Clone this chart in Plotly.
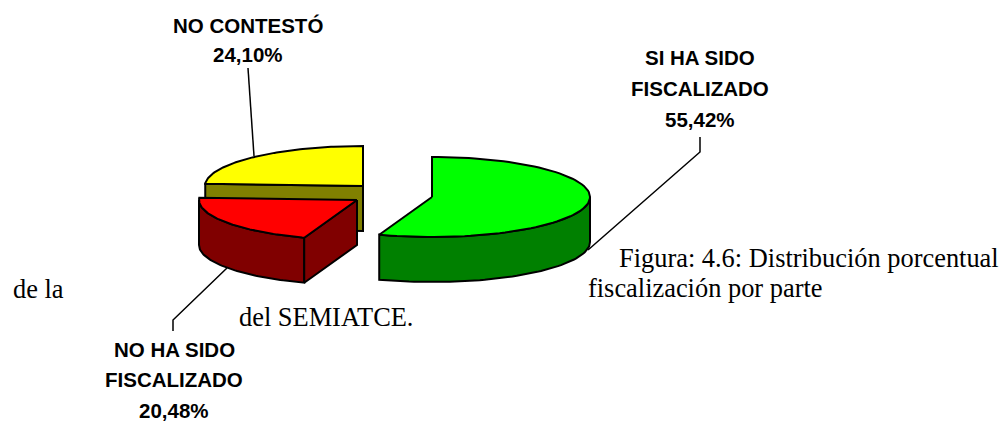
import numpy as np
import plotly.graph_objects as go

# Data
categories = ["SI HA SIDO FISCALIZADO", "NO HA SIDO FISCALIZADO", "NO CONTESTÓ"]
values = [55.42, 20.48, 24.10]
top_colors = ["#00ff00", "#ff0000", "#ffff00"]
side_colors = ["#008000", "#800000", "#808000"]

# Projection of the 3D pie (page pixels)
centres = [(432, 197), (357, 200), (363, 186)]
RX, RY, DEPTH = 158, 40, 45
LINE = dict(color="#000000", width=2)

fig = go.Figure()


def pt(c, deg, dy=0):
    t = np.radians(deg)
    return c[0] + RX * np.sin(t), c[1] - RY * np.cos(t) + dy


def poly(pts, fill, name):
    xs = [p[0] for p in pts] + [pts[0][0]]
    ys = [p[1] for p in pts] + [pts[0][1]]
    fig.add_trace(go.Scatter(x=xs, y=ys, mode="lines", fill="toself", fillcolor=fill,
                             line=LINE, name=name, hoverinfo="name", showlegend=False))


# angular spans, clockwise from 12 o'clock
edges = np.concatenate([[0], np.cumsum(values) / sum(values) * 360])
spans = [(edges[i], edges[i + 1]) for i in range(len(values))]

# Leader lines
leaders = [
    [(700, 137), (700, 152), (588, 250)],
    [(173, 331), (173, 320), (227, 268)],
    [(248, 68), (254, 156)],
]
for l in leaders:
    fig.add_trace(go.Scatter(x=[p[0] for p in l], y=[p[1] for p in l], mode="lines",
                             line=dict(color="#000000", width=1.5), hoverinfo="skip",
                             showlegend=False))

for i in [2, 1, 0]:
    c, (a0, a1) = centres[i], spans[i]
    name = categories[i]
    r0, r1 = max(a0, 90), min(a1, 270)
    if r1 > r0:
        arc = [pt(c, d) for d in np.linspace(r0, r1, 60)]
        arc_low = [pt(c, d, DEPTH) for d in np.linspace(r1, r0, 60)]
        poly(arc + arc_low, side_colors[i], name)
    if i in (1, 2):
        e = pt(c, a0)
        poly([c, e, (e[0], e[1] + DEPTH), (c[0], c[1] + DEPTH)], side_colors[i], name)
    poly([c] + [pt(c, d) for d in np.linspace(a0, a1, 90)], top_colors[i], name)

# Labels
label_lines = [
    ("NO CONTESTÓ", 247.5, 25), ("24,10%", 247.5, 54),
    ("SI HA SIDO", 699.5, 57), ("FISCALIZADO", 699.5, 88), ("55,42%", 699.5, 119),
    ("NO HA SIDO", 174, 349), ("FISCALIZADO", 174, 379), ("20,48%", 174, 410),
]
for t, x, y in label_lines:
    fig.add_annotation(x=x, y=y, text=f"<b>{t}</b>", showarrow=False, xanchor="center",
                       yanchor="middle", font=dict(family="Liberation Sans", size=20.5, color="#000"))

body_lines = [
    ("Figura: 4.6: Distribución porcentual", 619, 258),
    ("de la", 13, 289),
    ("fiscalización por parte", 588, 288),
    ("del SEMIATCE.", 239, 317),
]
for t, x, y in body_lines:
    fig.add_annotation(x=x, y=y, text=t, showarrow=False, xanchor="left", yanchor="middle",
                       xshift=-2, font=dict(family="Liberation Serif", size=26.4, color="#000"))

# the page body has an 8 px margin, so the canvas is 1000x413 and the axes start at 8
fig.update_layout(
    width=1000, height=413, margin=dict(l=0, r=0, t=0, b=0),
    paper_bgcolor="#ffffff", plot_bgcolor="#ffffff", showlegend=False,
    xaxis=dict(range=[8, 1008], visible=False, fixedrange=True),
    yaxis=dict(range=[421, 8], visible=False, fixedrange=True),
)
fig.write_html("out.html", config={"displayModeBar": False})
